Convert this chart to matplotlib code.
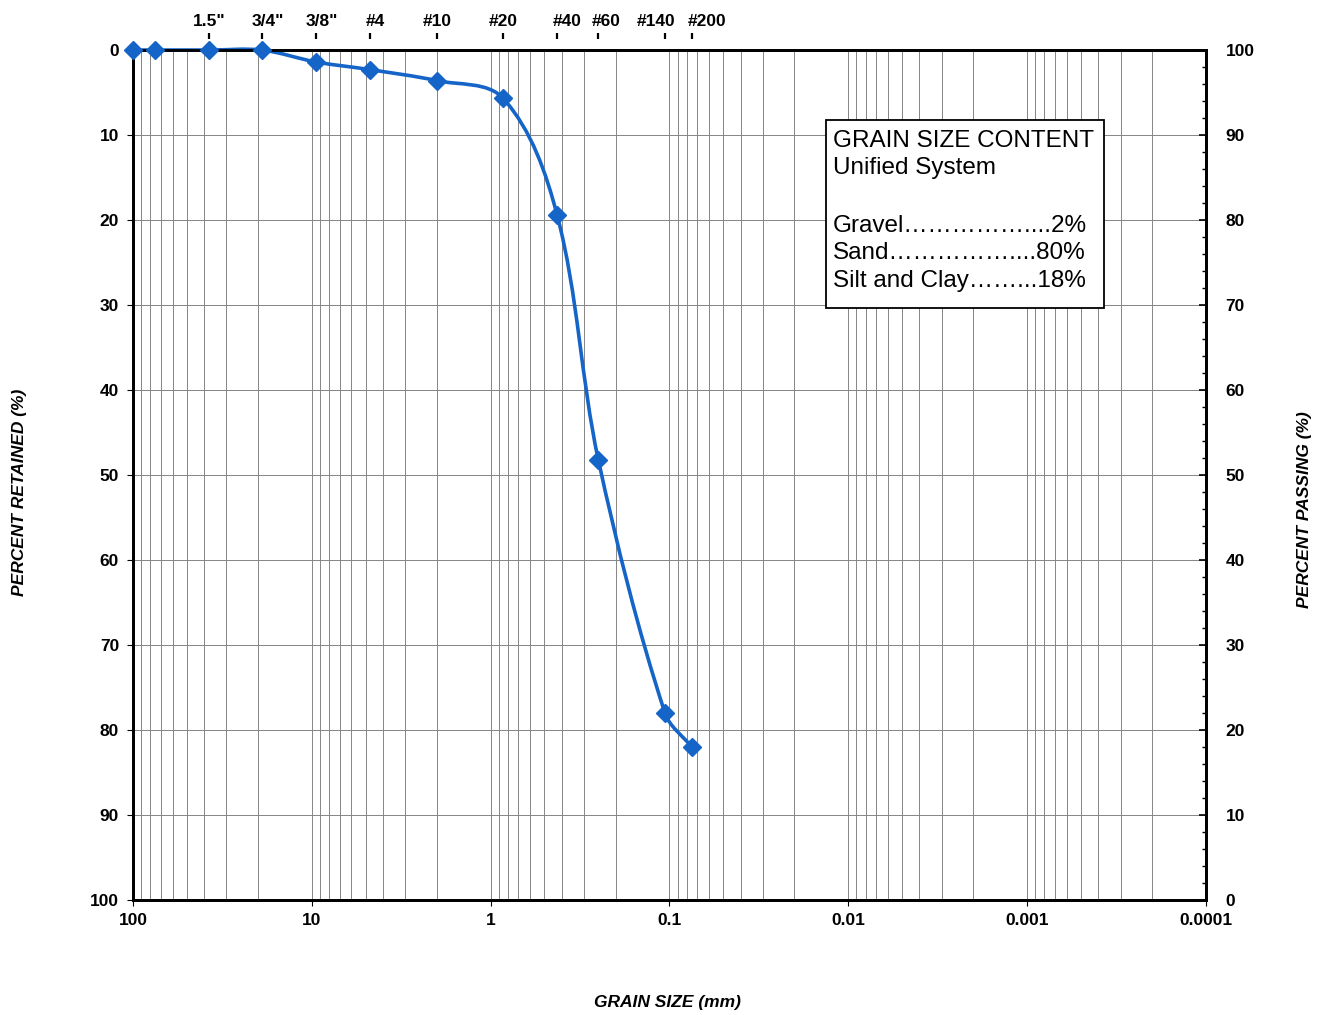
import numpy as np
import matplotlib
matplotlib.use("Agg")
import matplotlib.pyplot as plt
from matplotlib.path import Path
from matplotlib.patches import PathPatch, Rectangle
from matplotlib.ticker import LogLocator, MultipleLocator, NullFormatter
from matplotlib.transforms import blended_transform_factory, offset_copy

plt.rcParams['font.family'] = ['Liberation Sans', 'DejaVu Sans']

# sieve analysis results (grain size in mm, percent passing)
grain_mm = [100, 75, 37.5, 19.0, 9.5, 4.75, 2.0, 0.85, 0.425, 0.25, 0.106, 0.075]
percent_passing = [100, 100, 100, 100, 98.6, 97.7, 96.4, 94.3, 80.6, 51.8, 22.0, 18.0]

# standard sieve openings marked along the top
sieve_labels = ['1.5"', '3/4"', '3/8"', '#4', '#10', '#20', '#40', '#60', '#140', '#200']
sieve_mm = [37.5, 19.0, 9.5, 4.75, 2.0, 0.85, 0.425, 0.25, 0.106, 0.075]

x_ticks = [100, 10, 1, 0.1, 0.01, 0.001, 0.0001]
x_tick_labels = ['100', '10', '1', '0.1', '0.01', '0.001', '0.0001']

content_title = ['GRAIN SIZE CONTENT', 'Unified System']
content_labels = ['Gravel', 'Sand', 'Silt and Clay']
content_values = [2, 80, 18]

BLUE = '#1565c8'
GRID = '#858585'
TICK_FS = 12.5
# horizontal nudge (pixels) of each sieve label relative to its mark
label_nudge = [0, 6, 6, 6, 0, 0, 10, 8, -9, 15]


def smooth_display_path(ax_, xs, ys):
    """Smoothed Bezier through the points, laid out in display space."""
    pts = ax_.transData.transform(np.column_stack([xs, ys]))
    n = len(pts)
    verts = [pts[0]]
    codes = [Path.MOVETO]

    def tangent(i):
        d = pts[min(i + 1, n - 1)] - pts[max(i - 1, 0)]
        norm = np.hypot(*d)
        return d / norm if norm > 0 else d

    for i in range(n - 1):
        seg = np.hypot(*(pts[i + 1] - pts[i]))
        c1 = pts[i] + tangent(i) * seg / 3
        c2 = pts[i + 1] - tangent(i + 1) * seg / 3
        verts += [c1, c2, pts[i + 1]]
        codes += [Path.CURVE4] * 3
    data_verts = ax_.transData.inverted().transform(np.array(verts))
    return Path(data_verts, codes)


fig = plt.figure(figsize=(13.27, 10.15), dpi=100)
ax = fig.add_axes([0.1002, 0.1133, 0.8086, 0.8374])
ax2 = ax.twinx()

# left axis: percent retained, 0 at top
ax.set_xscale('log')
ax.set_xlim(100, 0.0001)
ax.set_ylim(100, 0)
ax.set_xticks(x_ticks, x_tick_labels)
ax.xaxis.set_minor_locator(LogLocator(base=10, subs=np.arange(2, 10), numticks=100))
ax.xaxis.set_minor_formatter(NullFormatter())
ax.yaxis.set_major_locator(MultipleLocator(10))
ax.grid(which='both', axis='x', color=GRID, lw=0.7)
ax.grid(which='major', axis='y', color=GRID, lw=0.7)
ax.set_axisbelow(True)
ax.tick_params(axis='x', which='major', direction='out', length=4, pad=5,
               labelsize=TICK_FS, top=False)
ax.tick_params(axis='x', which='minor', length=0)
ax.tick_params(axis='y', direction='out', length=4, pad=6, labelsize=TICK_FS,
               right=False)

# right axis: percent passing
ax2.set_ylim(0, 100)
ax2.yaxis.set_major_locator(MultipleLocator(10))
ax2.yaxis.set_minor_locator(MultipleLocator(2))
ax2.tick_params(axis='y', which='major', direction='in', length=5, width=1.2,
                pad=14, labelsize=TICK_FS, left=False)
ax2.tick_params(axis='y', which='minor', direction='in', length=3, width=1.0,
                left=False)

for lab in ax.get_xticklabels() + ax.get_yticklabels() + ax2.get_yticklabels():
    lab.set_fontweight('bold')

for a in (ax, ax2):
    for sp in a.spines.values():
        sp.set_linewidth(2.0)
        sp.set_color('black')

fig.canvas.draw()

# gradation curve
curve = PathPatch(smooth_display_path(ax2, grain_mm, percent_passing),
                  facecolor='none', edgecolor=BLUE, lw=2.6,
                  transform=ax2.transData, clip_on=False)
ax2.add_patch(curve)
ax2.plot(grain_mm, percent_passing, ls='none', marker='D', ms=9, color=BLUE,
         mec=BLUE, clip_on=False, zorder=5)

# sieve marks above the top axis
trans = blended_transform_factory(ax.transData, ax.transAxes)
ax.plot(sieve_mm, [1.016] * len(sieve_mm), ls='none', marker='|', ms=4.5,
        mew=1.6, color='black', transform=trans, clip_on=False)
for xv, lab, dx in zip(sieve_mm, sieve_labels, label_nudge):
    ax.text(xv, 1.033, lab, ha='center', va='center', fontsize=TICK_FS,
            fontweight='bold',
            transform=offset_copy(trans, fig=fig, x=dx, y=0, units='dots'))

# grain size content box
ax.add_patch(Rectangle((0.646, 0.696), 0.259, 0.222, transform=ax.transAxes,
                       facecolor='white', edgecolor='black', lw=1.3, zorder=6))
text_x = 0.652
title_y = [0.893, 0.861]
for yv, line in zip(title_y, content_title):
    ax.text(text_x, yv, line, transform=ax.transAxes, ha='left', va='center',
            fontsize=17.5, zorder=7)

renderer = fig.canvas.get_renderer()
right_px = ax.transAxes.transform((0.891, 0))[0]
row_y = [0.793, 0.761, 0.728]


def leader_line(name, k, m, val):
    return name + '\u2026' * k + '.' * m + f'{val}%'


def fits(t, s):
    t.set_text(s)
    return t.get_window_extent(renderer).x1 <= right_px


for yv, name, val in zip(row_y, content_labels, content_values):
    t = ax.text(text_x, yv, '', transform=ax.transAxes, ha='left', va='center',
                fontsize=17.5, zorder=7)
    # spaced dot leaders first, then tight dots to close the gap
    k = 0
    while k < 40 and fits(t, leader_line(name, k + 1, 2, val)):
        k += 1
    m = 2
    while m < 10 and fits(t, leader_line(name, k, m + 1, val)):
        m += 1
    t.set_text(leader_line(name, k, m, val))

# axis titles
lab_kw = dict(fontsize=12.5, fontweight='bold', style='italic')
fig.text(20 / 1327, 1 - 492 / 1015, 'PERCENT RETAINED (%)', rotation=90,
         ha='center', va='center', **lab_kw)
fig.text(1304 / 1327, 1 - 510 / 1015, 'PERCENT PASSING (%)', rotation=90,
         ha='center', va='center', **lab_kw)
fig.text(667 / 1327, 1 - 1003 / 1015, 'GRAIN SIZE (mm)', ha='center',
         va='center', **lab_kw)

fig.savefig('out.png', dpi=100, facecolor='white')
